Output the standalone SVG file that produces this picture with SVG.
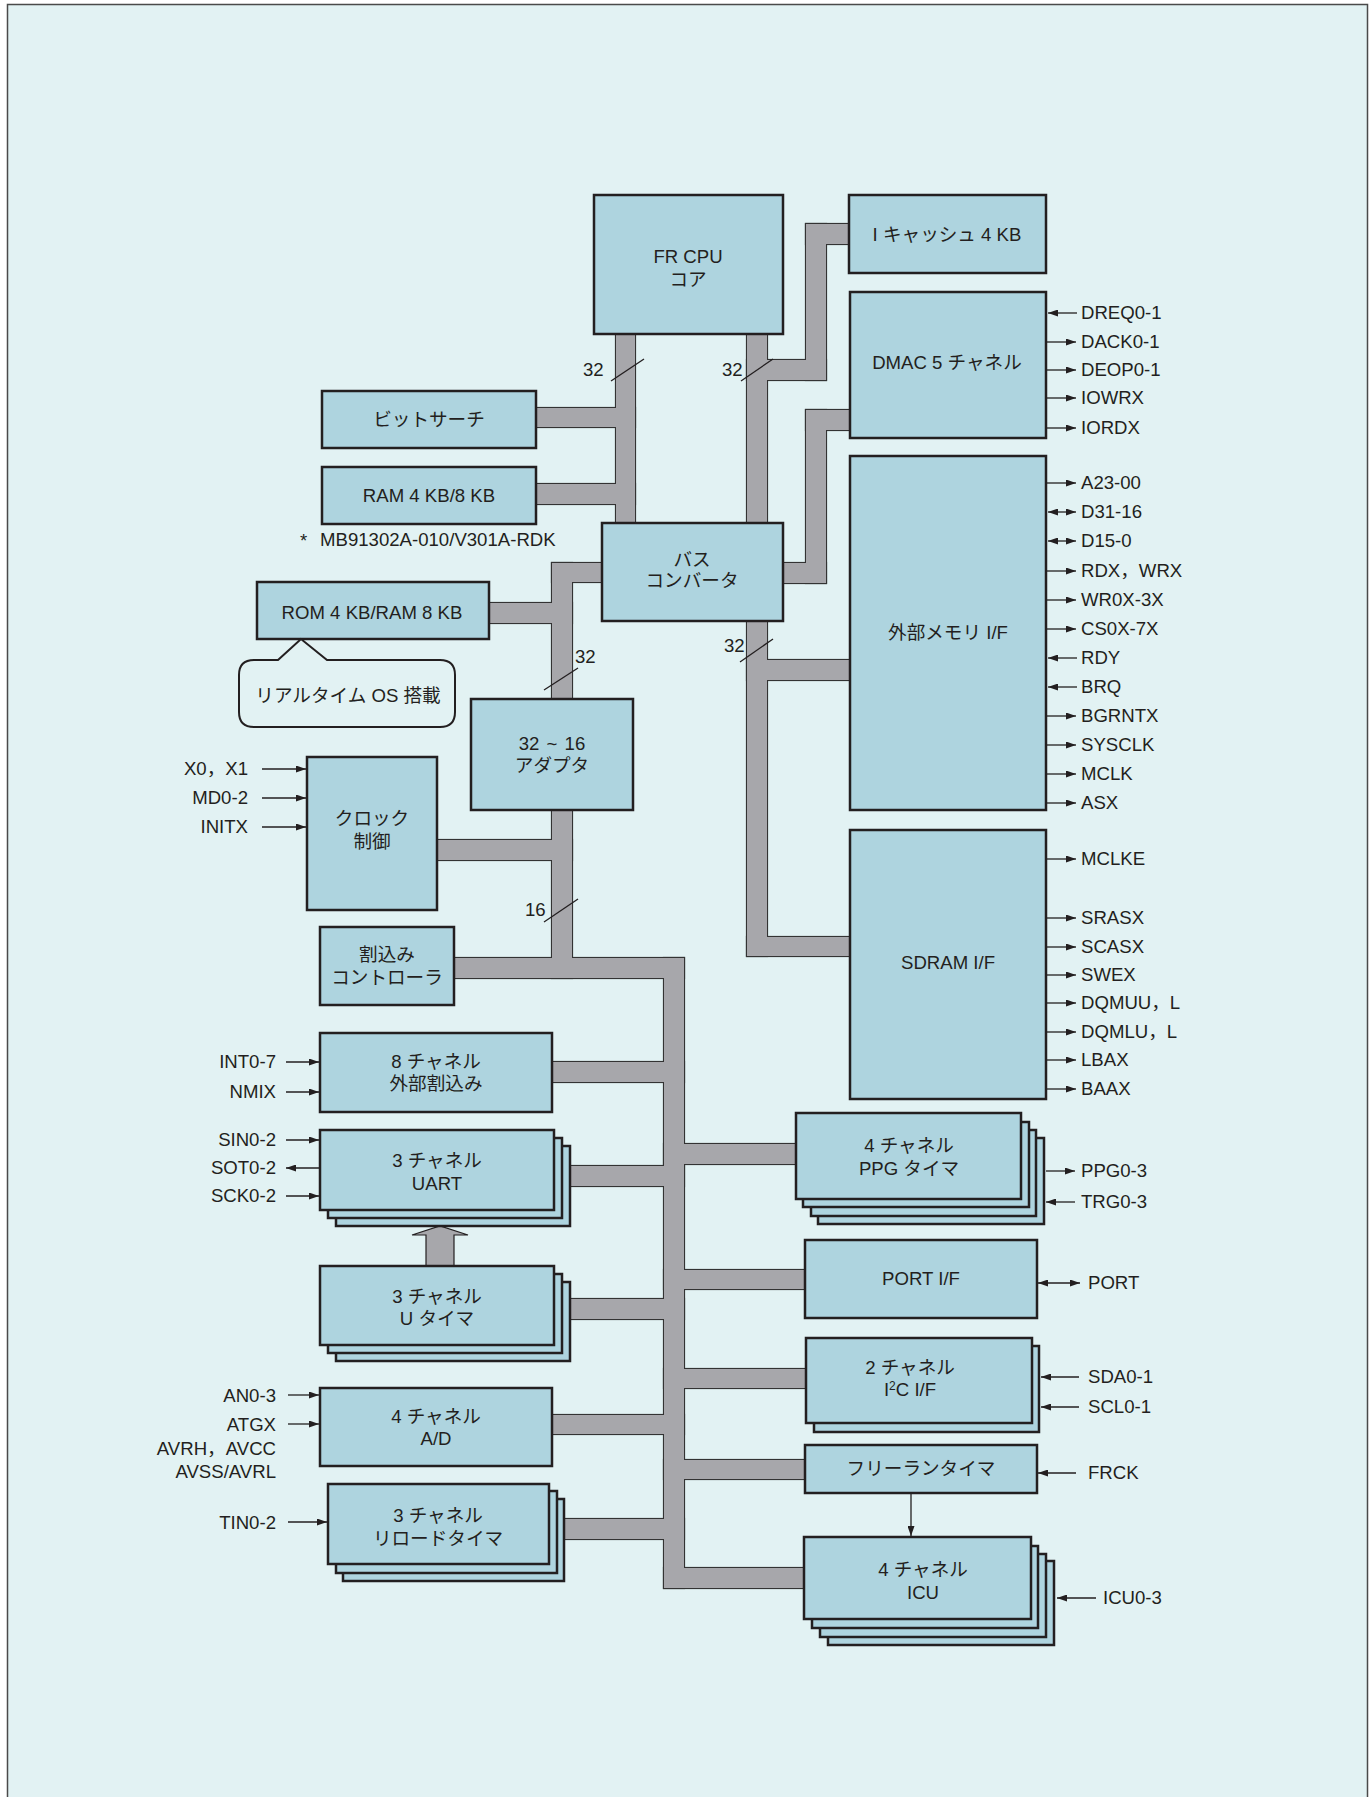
<svg xmlns="http://www.w3.org/2000/svg" xmlns:xlink="http://www.w3.org/1999/xlink" width="1371" height="1797" viewBox="0 0 1371 1797">
<style>
.bg{fill:#e2f2f3;stroke:#4a4a4a;stroke-width:1.5}
.box{fill:#aed4df;stroke:#231f20;stroke-width:2.5}
.t{font-family:"Liberation Sans","Noto Sans CJK JP",sans-serif;font-size:18.6px;fill:#231f20}
.m{text-anchor:middle}
.e{text-anchor:end}
.sig{stroke:#231f20;stroke-width:1.3;fill:none}
.out{marker-end:url(#ah)}
.bi{marker-start:url(#ah);marker-end:url(#ah)}
.slash{stroke:#231f20;stroke-width:1.3}
.callout{fill:#e2f2f3;stroke:#231f20;stroke-width:2}
</style>
<defs>
<marker id="ah" viewBox="0 0 10 7" refX="10" refY="3.5" markerWidth="10" markerHeight="7" markerUnits="userSpaceOnUse" orient="auto-start-reverse">
<path d="M0,0L10,3.5L0,7z" fill="#231f20"/>
</marker>
<g id="busShapes">
<rect x="616" y="332" width="19" height="193"/>
<rect x="534" y="408" width="101" height="19"/>
<rect x="534" y="484" width="101" height="20"/>
<rect x="552" y="563" width="52" height="19"/>
<rect x="552" y="563" width="20" height="415"/>
<rect x="487" y="603" width="85" height="20"/>
<rect x="435" y="840" width="137" height="20"/>
<rect x="452" y="958" width="232" height="20"/>
<rect x="664" y="958" width="20" height="630"/>
<rect x="550" y="1062" width="134" height="20"/>
<rect x="560" y="1166" width="124" height="20"/>
<rect x="560" y="1299" width="124" height="20"/>
<rect x="550" y="1415" width="134" height="19"/>
<rect x="560" y="1519" width="124" height="20"/>
<rect x="664" y="1144" width="134" height="20"/>
<rect x="664" y="1270" width="143" height="19"/>
<rect x="664" y="1369" width="144" height="19"/>
<rect x="664" y="1460" width="143" height="19"/>
<rect x="664" y="1568" width="143" height="20"/>
<rect x="747" y="332" width="20" height="624"/>
<rect x="747" y="360" width="79" height="20"/>
<rect x="806" y="224" width="20" height="156"/>
<rect x="806" y="224" width="45" height="20"/>
<rect x="781" y="563" width="45" height="20"/>
<rect x="806" y="410" width="20" height="173"/>
<rect x="806" y="410" width="46" height="20"/>
<rect x="747" y="660" width="105" height="20"/>
<rect x="747" y="937" width="105" height="19"/>
</g>
</defs>

<rect x="0" y="0" width="1371" height="1797" fill="#ffffff"/>
<rect class="bg" x="7.5" y="4.5" width="1360" height="1800"/>

<g id="connectors">
<use xlink:href="#busShapes" fill="#333333" stroke="#333333" stroke-width="2.2"/>
<use xlink:href="#busShapes" fill="#a7a7ab"/>
<polygon points="426,1266 426,1235 412,1235 440,1226 468,1235 454,1235 454,1266" fill="#a7a7ab" stroke="#231f20" stroke-width="1.2"/>
<line class="slash" x1="611" y1="381" x2="644" y2="359"/>
<line class="slash" x1="741" y1="381" x2="773" y2="359"/>
<line class="slash" x1="544" y1="690" x2="578" y2="668"/>
<line class="slash" x1="740" y1="662" x2="773" y2="639"/>
<line class="slash" x1="544" y1="922" x2="578" y2="899"/>
<line class="sig out" x1="911" y1="1494" x2="911" y2="1536"/>
<!-- DMAC signals -->
<line class="sig out" x1="1077" y1="313" x2="1048" y2="313"/>
<line class="sig out" x1="1047" y1="342" x2="1076" y2="342"/>
<line class="sig out" x1="1047" y1="370" x2="1076" y2="370"/>
<line class="sig out" x1="1047" y1="398" x2="1076" y2="398"/>
<line class="sig out" x1="1047" y1="428" x2="1076" y2="428"/>
<!-- ext mem -->
<line class="sig out" x1="1047" y1="483" x2="1076" y2="483"/>
<line class="sig bi" x1="1048" y1="512" x2="1076" y2="512"/>
<line class="sig bi" x1="1048" y1="541" x2="1076" y2="541"/>
<line class="sig out" x1="1047" y1="571" x2="1076" y2="571"/>
<line class="sig out" x1="1047" y1="600" x2="1076" y2="600"/>
<line class="sig out" x1="1047" y1="629" x2="1076" y2="629"/>
<line class="sig out" x1="1077" y1="658" x2="1048" y2="658"/>
<line class="sig out" x1="1077" y1="687" x2="1048" y2="687"/>
<line class="sig out" x1="1047" y1="716" x2="1076" y2="716"/>
<line class="sig out" x1="1047" y1="745" x2="1076" y2="745"/>
<line class="sig out" x1="1047" y1="774" x2="1076" y2="774"/>
<line class="sig out" x1="1047" y1="803" x2="1076" y2="803"/>
<!-- SDRAM -->
<line class="sig out" x1="1047" y1="859" x2="1076" y2="859"/>
<line class="sig out" x1="1047" y1="918" x2="1076" y2="918"/>
<line class="sig out" x1="1047" y1="947" x2="1076" y2="947"/>
<line class="sig out" x1="1047" y1="975" x2="1076" y2="975"/>
<line class="sig out" x1="1047" y1="1003" x2="1076" y2="1003"/>
<line class="sig out" x1="1047" y1="1032" x2="1076" y2="1032"/>
<line class="sig out" x1="1047" y1="1060" x2="1076" y2="1060"/>
<line class="sig out" x1="1047" y1="1089" x2="1076" y2="1089"/>
<!-- right lower -->
<line class="sig out" x1="1046" y1="1171" x2="1075" y2="1171"/>
<line class="sig out" x1="1075" y1="1202" x2="1046" y2="1202"/>
<line class="sig bi" x1="1038" y1="1283" x2="1080" y2="1283"/>
<line class="sig out" x1="1079" y1="1377" x2="1041" y2="1377"/>
<line class="sig out" x1="1079" y1="1407" x2="1041" y2="1407"/>
<line class="sig out" x1="1076" y1="1473" x2="1038" y2="1473"/>
<line class="sig out" x1="1096" y1="1598" x2="1057" y2="1598"/>
<!-- left inputs -->
<line class="sig out" x1="262" y1="769" x2="306" y2="769"/>
<line class="sig out" x1="262" y1="798" x2="306" y2="798"/>
<line class="sig out" x1="262" y1="827" x2="306" y2="827"/>
<line class="sig out" x1="286" y1="1062" x2="319" y2="1062"/>
<line class="sig out" x1="286" y1="1092" x2="319" y2="1092"/>
<line class="sig out" x1="286" y1="1140" x2="319" y2="1140"/>
<line class="sig out" x1="319" y1="1168" x2="286" y2="1168"/>
<line class="sig out" x1="286" y1="1196" x2="319" y2="1196"/>
<line class="sig out" x1="288" y1="1395" x2="319" y2="1395"/>
<line class="sig out" x1="288" y1="1424" x2="319" y2="1424"/>
<line class="sig out" x1="288" y1="1522" x2="327" y2="1522"/>
</g>

<g id="buswidths">
<text class="t" x="583" y="376">32</text>
<text class="t" x="722" y="376">32</text>
<text class="t" x="575" y="663">32</text>
<text class="t" x="724" y="652">32</text>
<text class="t" x="525" y="916">16</text>
</g>

<g id="cpu">
<rect class="box" x="594" y="195" width="189" height="139"/>
<text class="t m" x="688" y="263">FR CPU</text>
<text class="t m" x="688" y="286">コア</text>
</g>
<g id="icache">
<rect class="box" x="849" y="195" width="197" height="78"/>
<text class="t m" x="947" y="241">I キャッシュ 4 KB</text>
</g>
<g id="dmac">
<rect class="box" x="850" y="292" width="196" height="146"/>
<text class="t m" x="947" y="369">DMAC 5 チャネル</text>
</g>
<g id="bitsearch">
<rect class="box" x="322" y="391" width="214" height="57"/>
<text class="t m" x="429" y="426">ビットサーチ</text>
</g>
<g id="ram">
<rect class="box" x="322" y="467" width="214" height="57"/>
<text class="t m" x="429" y="502">RAM 4 KB/8 KB</text>
</g>
<g id="note">
<text class="t" x="300" y="547">*</text>
<text class="t" x="320" y="546">MB91302A-010/V301A-RDK</text>
</g>
<g id="busconv">
<rect class="box" x="602" y="523" width="181" height="98"/>
<text class="t m" x="692" y="566">バス</text>
<text class="t m" x="692" y="587">コンバータ</text>
</g>
<g id="rom">
<rect class="box" x="257" y="582" width="232" height="57"/>
<text class="t m" x="372" y="619">ROM 4 KB/RAM 8 KB</text>
</g>
<g id="callout">
<path class="callout" d="M278,660 L301,639 L327,660 L440,660 Q455,660 455,675 L455,712 Q455,727 440,727 L254,727 Q239,727 239,712 L239,675 Q239,660 254,660 Z"/>
<text class="t m" x="348" y="702">リアルタイム OS 搭載</text>
</g>
<g id="adapter">
<rect class="box" x="471" y="699" width="162" height="111"/>
<text class="t m" x="552" y="750">32 <tspan dx="2">~</tspan><tspan dx="2"> 16</tspan></text>
<text class="t m" x="552" y="772">アダプタ</text>
</g>
<g id="clock">
<rect class="box" x="307" y="757" width="130" height="153"/>
<text class="t m" x="372" y="825">クロック</text>
<text class="t m" x="372" y="848">制御</text>
</g>
<g id="intc">
<rect class="box" x="320" y="927" width="134" height="78"/>
<text class="t m" x="387" y="961">割込み</text>
<text class="t m" x="387" y="984">コントローラ</text>
</g>
<g id="extmem">
<rect class="box" x="850" y="456" width="196" height="354"/>
<text class="t m" x="948" y="639">外部メモリ I/F</text>
</g>
<g id="sdram">
<rect class="box" x="850" y="830" width="196" height="269"/>
<text class="t m" x="948" y="969">SDRAM I/F</text>
</g>
<g id="extint">
<rect class="box" x="320" y="1033" width="232" height="79"/>
<text class="t m" x="436" y="1068">8 チャネル</text>
<text class="t m" x="436" y="1090">外部割込み</text>
</g>
<g id="uart">
<rect class="box" x="336" y="1146" width="234" height="80"/>
<rect class="box" x="328" y="1138" width="234" height="80"/>
<rect class="box" x="320" y="1130" width="234" height="80"/>
<text class="t m" x="437" y="1167">3 チャネル</text>
<text class="t m" x="437" y="1190">UART</text>
</g>
<g id="utimer">
<rect class="box" x="336" y="1282" width="234" height="79"/>
<rect class="box" x="328" y="1274" width="234" height="79"/>
<rect class="box" x="320" y="1266" width="234" height="79"/>
<text class="t m" x="437" y="1303">3 チャネル</text>
<text class="t m" x="437" y="1325">U タイマ</text>
</g>
<g id="ad">
<rect class="box" x="320" y="1388" width="232" height="78"/>
<text class="t m" x="436" y="1423">4 チャネル</text>
<text class="t m" x="436" y="1445">A/D</text>
</g>
<g id="reload">
<rect class="box" x="343" y="1499" width="221" height="82"/>
<rect class="box" x="336" y="1491" width="221" height="82"/>
<rect class="box" x="328" y="1484" width="221" height="80"/>
<text class="t m" x="438" y="1522">3 チャネル</text>
<text class="t m" x="438" y="1545">リロードタイマ</text>
</g>
<g id="ppg">
<rect class="box" x="818" y="1138" width="226" height="86"/>
<rect class="box" x="811" y="1130" width="225" height="86"/>
<rect class="box" x="803" y="1122" width="226" height="85"/>
<rect class="box" x="796" y="1113" width="225" height="86"/>
<text class="t m" x="909" y="1152">4 チャネル</text>
<text class="t m" x="909" y="1175">PPG タイマ</text>
</g>
<g id="port">
<rect class="box" x="805" y="1240" width="232" height="78"/>
<text class="t m" x="921" y="1285">PORT I/F</text>
</g>
<g id="i2c">
<rect class="box" x="814" y="1346" width="225" height="86"/>
<rect class="box" x="806" y="1338" width="226" height="85"/>
<text class="t m" x="910" y="1374">2 チャネル</text>
<text class="t m" x="910" y="1396">I<tspan font-size="12" dy="-6">2</tspan><tspan dy="6">C I/F</tspan></text>
</g>
<g id="frt">
<rect class="box" x="805" y="1445" width="232" height="48"/>
<text class="t m" x="921" y="1475">フリーランタイマ</text>
</g>
<g id="icu">
<rect class="box" x="828" y="1561" width="226" height="84"/>
<rect class="box" x="820" y="1554" width="226" height="83"/>
<rect class="box" x="812" y="1546" width="226" height="82"/>
<rect class="box" x="804" y="1537" width="227" height="82"/>
<text class="t m" x="923" y="1576">4 チャネル</text>
<text class="t m" x="923" y="1599">ICU</text>
</g>

<g id="signals">
<text class="t" x="1081" y="319">DREQ0-1</text>
<text class="t" x="1081" y="348">DACK0-1</text>
<text class="t" x="1081" y="376">DEOP0-1</text>
<text class="t" x="1081" y="404">IOWRX</text>
<text class="t" x="1081" y="434">IORDX</text>
<text class="t" x="1081" y="489">A23-00</text>
<text class="t" x="1081" y="518">D31-16</text>
<text class="t" x="1081" y="547">D15-0</text>
<text class="t" x="1081" y="577">RDX，WRX</text>
<text class="t" x="1081" y="606">WR0X-3X</text>
<text class="t" x="1081" y="635">CS0X-7X</text>
<text class="t" x="1081" y="664">RDY</text>
<text class="t" x="1081" y="693">BRQ</text>
<text class="t" x="1081" y="722">BGRNTX</text>
<text class="t" x="1081" y="751">SYSCLK</text>
<text class="t" x="1081" y="780">MCLK</text>
<text class="t" x="1081" y="809">ASX</text>
<text class="t" x="1081" y="865">MCLKE</text>
<text class="t" x="1081" y="924">SRASX</text>
<text class="t" x="1081" y="953">SCASX</text>
<text class="t" x="1081" y="981">SWEX</text>
<text class="t" x="1081" y="1009">DQMUU，L</text>
<text class="t" x="1081" y="1038">DQMLU，L</text>
<text class="t" x="1081" y="1066">LBAX</text>
<text class="t" x="1081" y="1095">BAAX</text>
<text class="t" x="1081" y="1177">PPG0-3</text>
<text class="t" x="1081" y="1208">TRG0-3</text>
<text class="t" x="1088" y="1289">PORT</text>
<text class="t" x="1088" y="1383">SDA0-1</text>
<text class="t" x="1088" y="1413">SCL0-1</text>
<text class="t" x="1088" y="1479">FRCK</text>
<text class="t" x="1103" y="1604">ICU0-3</text>
<text class="t e" x="248" y="775">X0，X1</text>
<text class="t e" x="248" y="804">MD0-2</text>
<text class="t e" x="248" y="833">INITX</text>
<text class="t e" x="276" y="1068">INT0-7</text>
<text class="t e" x="276" y="1098">NMIX</text>
<text class="t e" x="276" y="1146">SIN0-2</text>
<text class="t e" x="276" y="1174">SOT0-2</text>
<text class="t e" x="276" y="1202">SCK0-2</text>
<text class="t e" x="276" y="1402">AN0-3</text>
<text class="t e" x="276" y="1431">ATGX</text>
<text class="t e" x="276" y="1455">AVRH，AVCC</text>
<text class="t e" x="276" y="1478">AVSS/AVRL</text>
<text class="t e" x="276" y="1529">TIN0-2</text>
</g>
</svg>
